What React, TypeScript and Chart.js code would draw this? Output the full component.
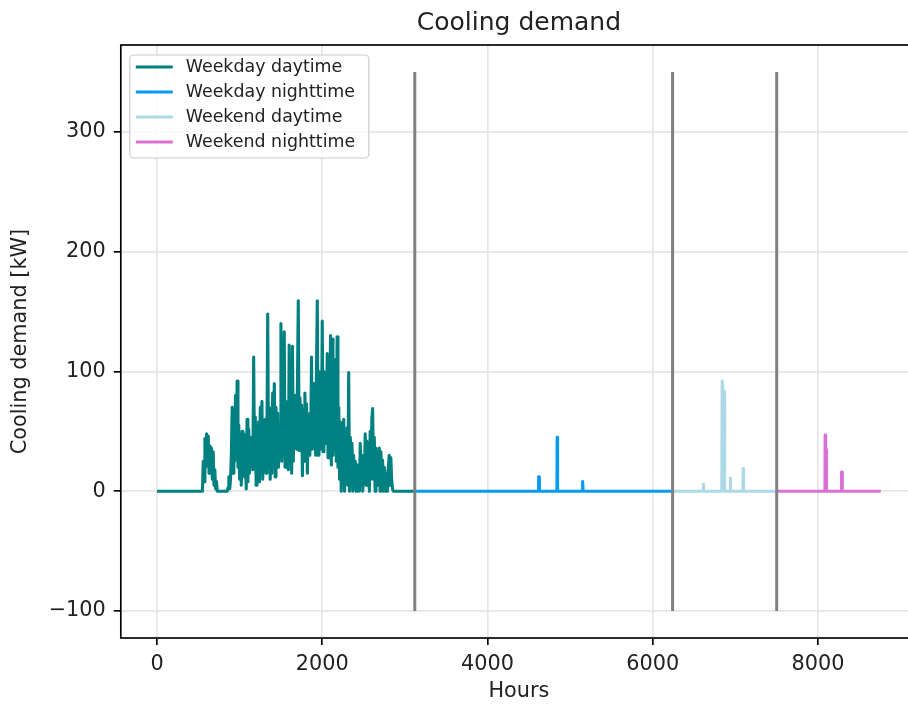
import React, { useEffect, useRef } from 'react';
import { Chart, registerables } from 'chart.js';

Chart.register(...registerables);

// ---- data ----
const chartTitle = 'Cooling demand';
const xTitle = 'Hours';
const yTitle = 'Cooling demand [kW]';
const xTicks = [0, 2000, 4000, 6000, 8000];
const yTicks = [-100, 0, 100, 200, 300];
const xRange = [-438, 9198];
const yRange = [-122.5, 372.5];

const seriesLabels = ['Weekday daytime', 'Weekday nighttime', 'Weekend daytime', 'Weekend nighttime'];
const seriesColors = ['#008080', '#069af3', '#add8e6', '#da70d6'];

const boundaryHours = [3120, 6240, 7500];
const boundaryLow = -100;
const boundaryHigh = 350;

// Weekday daytime: one reading every 10 hours, starting at hour 0
const wdDayStart = 0;
const wdDayStep = 10;
const wdDayValues = [
  0, 0, 0, 0, 0, 0, 0, 0, 0, 0, 0, 0, 0, 0, 0, 0, 0, 0, 0, 0,
  0, 0, 0, 0, 0, 0, 0, 0, 0, 0, 0, 0, 0, 0, 0, 0, 0, 0, 0, 0,
  0, 0, 0, 0, 0, 0, 0, 0, 0, 0, 0, 0, 0, 0, 0,
  0, 25, 8, 44, 20, 48, 25, 46, 15, 38, 20, 36, 10, 33, 5, 18, 2, 8, 0, 0,
  0, 0, 0, 0, 0, 0, 0, 0, 0, 0, 0,
  3, 12, 2, 10, 30, 70, 15, 65, 25, 80, 30, 92,
  20, 55, 10, 45, 5, 50, 30, 48, 12, 40, 2, 60, 8, 52, 15, 45, 25, 40, 18, 112,
  25, 62, 5, 45, 15, 58, 8, 70, 20, 75, 10, 55, 25, 60, 15, 40, 148,
  20, 70, 10, 60, 15, 82, 25, 90, 12, 70, 25, 65, 20, 50, 30, 140,
  25, 85, 35, 133, 20, 75, 30, 60, 18, 122, 30, 70, 15, 121, 25, 80, 40, 70, 35, 90, 159,
  34, 78, 40, 72, 13, 68, 25, 82, 35, 73, 15, 60, 30, 65, 40, 112, 35, 90, 45, 70, 30, 100, 159,
  30, 100, 40, 85, 35, 142, 33, 100, 45, 80, 40, 115, 28, 95, 40, 130, 22, 127, 30, 90, 35, 110, 25, 129,
  20, 70, 10, 58, 0, 56, 15, 60, 0, 45, 10, 53, 5, 99,
  0, 45, 10, 40, 0, 30, 5, 25, 0, 22, 8, 20, 0, 40, 5, 30, 0, 25, 10, 48, 5, 42, 15, 35, 0, 50, 10, 60, 69,
  10, 45, 0, 36, 15, 30, 5, 36, 0, 33, 10, 26, 0, 20, 15, 0, 8, 0, 20, 30, 5, 28, 10, 2, 0,
  0, 0, 0, 0, 0, 0, 0, 0, 0, 0, 0, 0, 0, 0, 0, 0, 0, 0, 0, 0, 0, 0, 0, 0, 0, 0,
];

const wdNightHours = [3120, 4617, 4619, 4626, 4628, 4840, 4843, 4847, 4849, 5146, 5148, 5155, 5157, 6240];
const wdNightValues = [0, 0, 12, 12, 0, 0, 45, 44, 0, 0, 8, 8, 0, 0];

const weDayHours = [6240, 6609, 6611, 6615, 6617, 6836, 6840, 6848, 6852, 6866, 6870, 6935, 6937, 6941, 6943, 7092, 7094, 7098, 7100, 7500];
const weDayValues = [0, 0, 6, 6, 0, 0, 92, 92, 83, 83, 0, 0, 11, 11, 0, 0, 19, 19, 0, 0];

const weNightHours = [7500, 8084, 8086, 8092, 8094, 8100, 8102, 8282, 8284, 8292, 8294, 8760];
const weNightValues = [0, 0, 47, 47, 35, 35, 0, 0, 16, 16, 0, 0];

// ---- helpers ----
const FONT = 'DejaVu Sans';
const TEXT = '#222222';

const pts = (hours: number[], values: number[]) => hours.map((h, i) => ({ x: h, y: values[i] }));
const wdDayPoints = wdDayValues.map((v, i) => ({ x: wdDayStart + i * wdDayStep, y: v }));
const seriesPoints = [
  wdDayPoints,
  pts(wdNightHours, wdNightValues),
  pts(weDayHours, weDayValues),
  pts(weNightHours, weNightValues),
];

const fmt = (v: number) => (v < 0 ? '\u2212' + Math.abs(v) : String(v));

const framePlugin = {
  id: 'frameAndLegend',
  afterDraw(chart: any) {
    const { ctx, chartArea: a } = chart;
    ctx.save();
    ctx.strokeStyle = '#000';
    ctx.lineWidth = 1.67;
    ctx.strokeRect(a.left, a.top, a.right - a.left, a.bottom - a.top);

    // legend (matplotlib-like, upper left inside axes)
    const bx = a.left + 9;
    const by = a.top + 10;
    const bw = 239;
    const bh = 103;
    ctx.beginPath();
    (ctx as any).roundRect(bx, by, bw, bh, 4);
    ctx.fillStyle = 'rgba(255,255,255,0.8)';
    ctx.fill();
    ctx.strokeStyle = '#cccccc';
    ctx.lineWidth = 1.2;
    ctx.stroke();
    ctx.font = `17.4px "${FONT}"`;
    ctx.textBaseline = 'middle';
    ctx.textAlign = 'left';
    seriesLabels.forEach((lab, i) => {
      const ry = by + 12 + i * 25;
      ctx.strokeStyle = seriesColors[i];
      ctx.lineWidth = 3.1;
      ctx.beginPath();
      ctx.moveTo(bx + 6, ry);
      ctx.lineTo(bx + 43, ry);
      ctx.stroke();
      ctx.fillStyle = TEXT;
      ctx.fillText(lab, bx + 56, ry);
    });
    ctx.restore();
  },
};

export default function App() {
  const ref = useRef<HTMLCanvasElement | null>(null);

  useEffect(() => {
    if (!ref.current) return;
    const gridColor = '#e6e6e6';
    const datasets: any[] = [];
    boundaryHours.forEach((b) => {
      datasets.push({
        label: '',
        data: [{ x: b, y: boundaryLow }, { x: b, y: boundaryHigh }],
        borderColor: '#808080',
        borderWidth: 3,
        pointRadius: 0,
        order: 0,
      });
    });
    seriesLabels.forEach((lab, i) => {
      datasets.push({
        label: lab,
        data: seriesPoints[i],
        borderColor: seriesColors[i],
        backgroundColor: seriesColors[i],
        borderWidth: 3.1,
        borderJoinStyle: 'round',
        pointRadius: 0,
        tension: 0,
        order: 1,
      });
    });

    const chart = new Chart(ref.current, {
      type: 'line',
      data: { datasets },
      options: {
        animation: false,
        responsive: false,
        devicePixelRatio: 1,
        events: [],
        layout: { padding: { left: 0, right: 1, top: 0, bottom: 0 } },
        plugins: {
          legend: { display: false },
          tooltip: { enabled: false },
          title: {
            display: true,
            fullSize: false,
            text: chartTitle,
            color: TEXT,
            font: { family: FONT, size: 25, weight: 'normal', lineHeight: 1.2 },
            padding: { top: 8, bottom: 7 },
          },
        },
        scales: {
          x: {
            type: 'linear',
            min: xRange[0],
            max: xRange[1],
            afterBuildTicks: (s: any) => {
              s.ticks = xTicks.map((v) => ({ value: v }));
            },
            afterFit: (s: any) => {
              s.height = 68;
            },
            border: { display: false },
            grid: {
              color: gridColor,
              lineWidth: 1.67,
              tickColor: '#000',
              tickWidth: 1.67,
              tickLength: 7,
            },
            ticks: {
              color: TEXT,
              font: { family: FONT, size: 20.8, lineHeight: 1.2 },
              padding: 7.5,
              maxRotation: 0,
              autoSkip: false,
              callback: (v: any) => fmt(Number(v)),
            },
            title: {
              display: true,
              text: xTitle,
              color: TEXT,
              font: { family: FONT, size: 20.8, lineHeight: 1.2 },
              padding: { top: 0, bottom: 1.5 },
            },
          },
          y: {
            type: 'linear',
            min: yRange[0],
            max: yRange[1],
            afterBuildTicks: (s: any) => {
              s.ticks = yTicks.map((v) => ({ value: v }));
            },
            afterFit: (s: any) => {
              s.width = 120.8;
            },
            border: { display: false },
            grid: {
              color: gridColor,
              lineWidth: 1.67,
              tickColor: '#000',
              tickWidth: 1.67,
              tickLength: 7,
            },
            ticks: {
              color: TEXT,
              font: { family: FONT, size: 20.8, lineHeight: 1.2 },
              padding: 8,
              autoSkip: false,
              callback: (v: any) => fmt(Number(v)),
            },
            title: {
              display: true,
              text: yTitle,
              color: TEXT,
              font: { family: FONT, size: 20.8, lineHeight: 1.2 },
              padding: { top: 8.5, bottom: 0 },
            },
          },
        },
      },
      plugins: [framePlugin],
    } as any);
    return () => chart.destroy();
  }, []);

  return (
    <div style={{ position: 'fixed', left: 0, top: 0, width: 908, height: 706, overflow: 'hidden', background: '#fff' }}>
      <canvas ref={ref} width={918} height={706} style={{ width: 918, height: 706, display: 'block' }} />
    </div>
  );
}
